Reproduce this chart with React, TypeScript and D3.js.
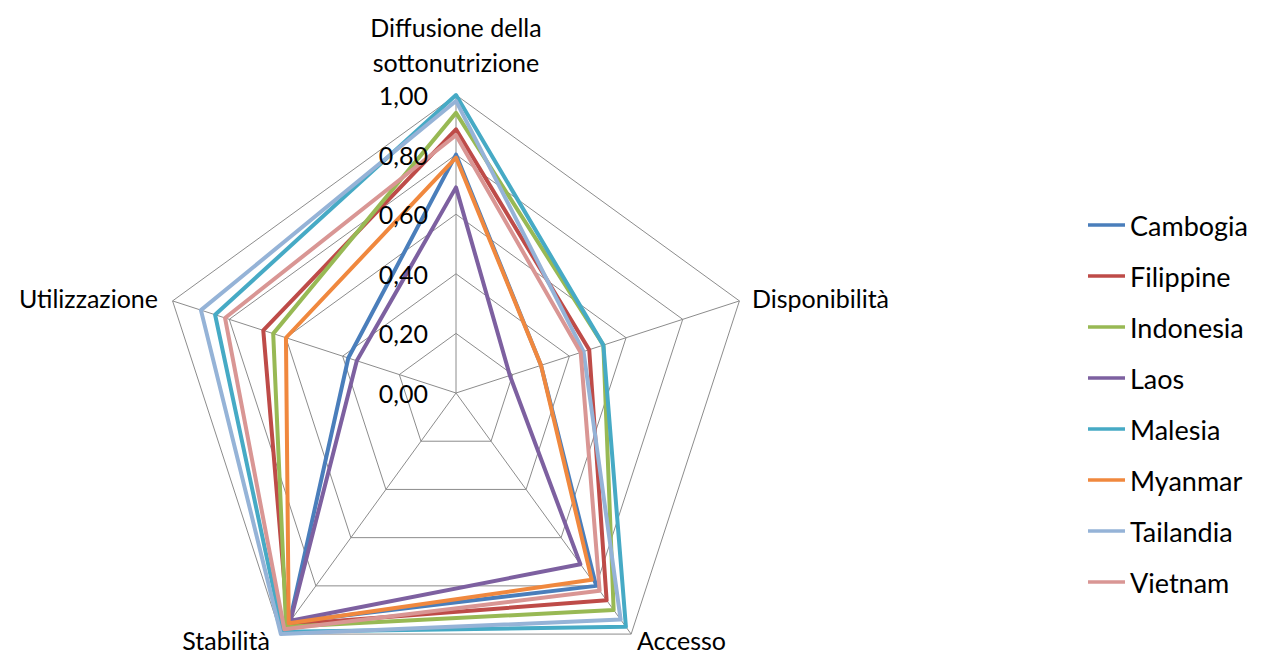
import React from "react";
import * as d3 from "d3";

const axes = ["Diffusione della sottonutrizione", "Disponibilità", "Accesso", "Stabilità", "Utilizzazione"];
const countries = ["Cambogia", "Filippine", "Indonesia", "Laos", "Malesia", "Myanmar", "Tailandia", "Vietnam"];
const colors = ["#4A7EBB", "#BE4B48", "#98B954", "#7D60A0", "#46AAC5", "#F0883E", "#95B3D7", "#D99694"];
const cambogia = [0.8, 0.3, 0.8, 0.95, 0.38];
const filippine = [0.885, 0.47, 0.86, 0.96, 0.68];
const indonesia = [0.94, 0.52, 0.9, 0.97, 0.645];
const laos = [0.69, 0.19, 0.71, 0.945, 0.35];
const malesia = [1.0, 0.52, 0.97, 0.99, 0.85];
const myanmar = [0.79, 0.3, 0.775, 0.955, 0.6];
const tailandia = [0.98, 0.45, 0.94, 1.0, 0.9];
const vietnam = [0.865, 0.44, 0.82, 0.98, 0.815];
const seriesValues = [cambogia, filippine, indonesia, laos, malesia, myanmar, tailandia, vietnam];
const ticks = [0, 0.2, 0.4, 0.6, 0.8, 1.0];
const tickLabels = ["0,00", "0,20", "0,40", "0,60", "0,80", "1,00"];

const FONT = "Lato, 'Open Sans', sans-serif";

export default function App() {
  const cx = 456, cy = 393, R = 298;
  const r = d3.scaleLinear().domain([0, 1]).range([0, R]);
  const angle = d3.scaleLinear().domain([0, axes.length]).range([0, 2 * Math.PI]);
  const pt = (i: number, v: number): [number, number] => {
    const a = angle(i);
    return [cx + r(v) * Math.sin(a), cy - r(v) * Math.cos(a)];
  };
  const closed = d3.line<[number, number]>().curve(d3.curveLinearClosed);

  return (
    <svg width={1263} height={656} style={{ position: "absolute", left: 0, top: 0, background: "#fff" }}>
      <g>
        {ticks.slice(1).map((t) => (
          <path key={"ring" + t} d={closed(axes.map((_, i) => pt(i, t))) || ""} fill="none" stroke="#8c8c8c" strokeWidth={1} />
        ))}
        {axes.map((_, i) => {
          const [x, y] = pt(i, 1);
          return <line key={"sp" + i} x1={cx} y1={cy} x2={x} y2={y} stroke="#8c8c8c" strokeWidth={1} />;
        })}
      </g>
      <g>
        {seriesValues.map((vals, s) => (
          <path
            key={countries[s]}
            d={closed(vals.map((v, i) => pt(i, v))) || ""}
            fill="none"
            stroke={colors[s]}
            strokeWidth={4}
            strokeLinejoin="round"
          />
        ))}
      </g>
      <g fontFamily={FONT} fontSize={25} fill="#000">
        {ticks.map((t, k) => (
          <text key={"tl" + t} x={cx - 28} y={cy - r(t)} textAnchor="end" dominantBaseline="central">
            {tickLabels[k]}
          </text>
        ))}
      </g>
      <g fontFamily={FONT} fontSize={25} fill="#000">
        <text x={456} y={27} textAnchor="middle" dominantBaseline="central">Diffusione della</text>
        <text x={456} y={62} textAnchor="middle" dominantBaseline="central">sottonutrizione</text>
        <text x={752} y={298} textAnchor="start" dominantBaseline="central">{axes[1]}</text>
        <text x={637} y={640} textAnchor="start" dominantBaseline="central">{axes[2]}</text>
        <text x={270} y={640} textAnchor="end" dominantBaseline="central">{axes[3]}</text>
        <text x={158} y={298} textAnchor="end" dominantBaseline="central">{axes[4]}</text>
      </g>
      <g fontFamily={FONT} fontSize={27} fill="#000">
        {countries.map((c, s) => {
          const y = 225 + s * 51;
          return (
            <g key={"lg" + c}>
              <line x1={1088} x2={1125} y1={y} y2={y} stroke={colors[s]} strokeWidth={3.5} />
              <text x={1130} y={y} dominantBaseline="central">{c}</text>
            </g>
          );
        })}
      </g>
    </svg>
  );
}
